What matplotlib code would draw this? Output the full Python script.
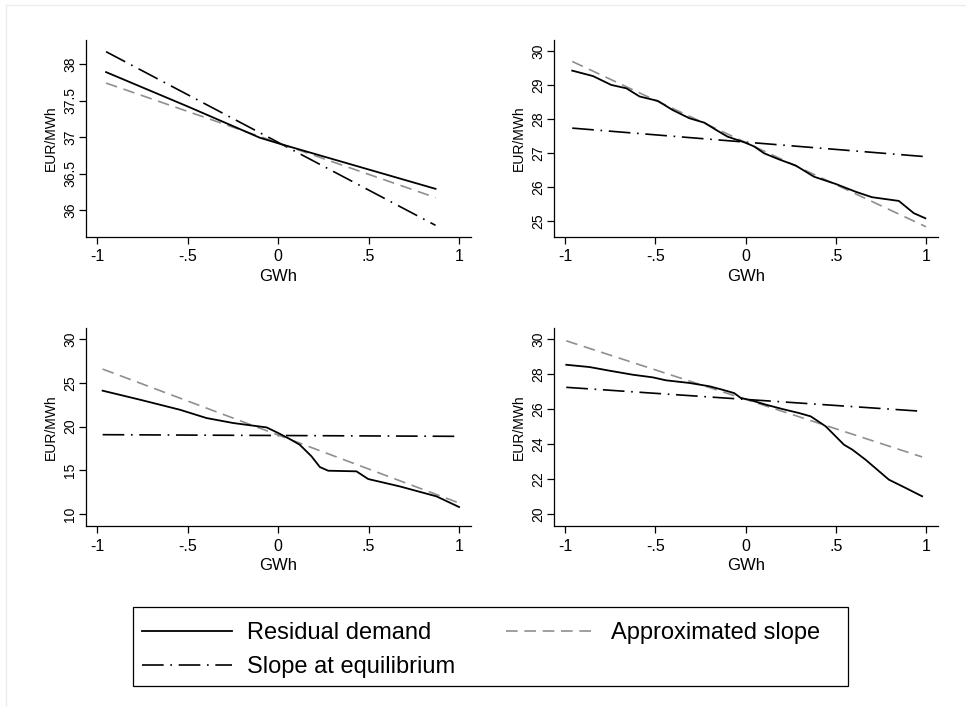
import numpy as np
import matplotlib.pyplot as plt
from matplotlib.lines import Line2D
from matplotlib.patches import Rectangle

plt.rcParams['font.family'] = ['Liberation Sans', 'DejaVu Sans']

# Panel 1 (top left)
p1_res_x = [-0.95, -0.5, -0.1, 0.02, 0.87]
p1_res_y = [37.89, 37.42, 36.99, 36.90, 36.29]
p1_apx_x = [-0.95, 0.87]
p1_apx_y = [37.74, 36.17]
p1_eq_x = [-0.95, 0.87]
p1_eq_y = [38.17, 35.79]

# Panel 2 (top right)
p2_res_x = [-0.96, -0.845, -0.744, -0.66, -0.587, -0.486, -0.403, -0.311, -0.228,
            -0.164, -0.1, 0.0, 0.048, 0.103, 0.186, 0.278, 0.38, 0.499, 0.61,
            0.70, 0.849, 0.932, 0.996]
p2_res_y = [29.42, 29.26, 29.0, 28.9, 28.66, 28.53, 28.26, 28.02, 27.89,
            27.68, 27.48, 27.3, 27.19, 26.99, 26.81, 26.63, 26.30, 26.09, 25.86,
            25.70, 25.59, 25.23, 25.08]
p2_apx_x = [-0.96, 1.0]
p2_apx_y = [29.69, 24.83]
p2_eq_x = [-0.96, 1.0]
p2_eq_y = [27.73, 26.89]

# Panel 3 (bottom left)
p3_res_x = [-0.969, -0.763, -0.542, -0.395, -0.247, -0.137, -0.063, 0.001, 0.065,
            0.12, 0.185, 0.231, 0.277, 0.433, 0.498, 0.672, 0.875, 1.0]
p3_res_y = [24.1, 23.07, 21.92, 20.97, 20.4, 20.1, 19.9, 19.26, 18.57,
            17.92, 16.59, 15.37, 14.95, 14.88, 14.0, 13.16, 12.02, 10.8]
p3_apx_x = [-0.969, 1.0]
p3_apx_y = [26.57, 11.26]
p3_eq_x = [-0.969, 1.0]
p3_eq_y = [19.07, 18.88]

# Panel 4 (bottom right)
p4_res_x = [-0.993, -0.864, -0.753, -0.624, -0.514, -0.44, -0.311, -0.2, -0.127,
            -0.063, -0.026, 0.02, 0.112, 0.204, 0.296, 0.361, 0.444, 0.545, 0.591,
            0.665, 0.794, 0.886, 0.978]
p4_res_y = [28.53, 28.4, 28.19, 27.96, 27.81, 27.64, 27.49, 27.3, 27.1,
            26.91, 26.63, 26.53, 26.25, 26.0, 25.77, 25.58, 25.01, 23.96, 23.68,
            23.1, 21.96, 21.49, 21.01]
p4_apx_x = [-0.993, 0.978]
p4_apx_y = [29.9, 23.26]
p4_eq_x = [-0.993, 0.978]
p4_eq_y = [27.24, 25.87]

x_ticks = [-1, -0.5, 0, 0.5, 1]
x_ticklabels = ['-1', '-.5', '0', '.5', '1']

panels = [
    dict(res=(p1_res_x, p1_res_y), apx=(p1_apx_x, p1_apx_y), eq=(p1_eq_x, p1_eq_y),
         yticks=[36, 36.5, 37, 37.5, 38], ylabels=['36', '36.5', '37', '37.5', '38'],
         ylim=(35.63, 38.33), rect=[0.089, 0.6648, 0.3986, 0.2786]),
    dict(res=(p2_res_x, p2_res_y), apx=(p2_apx_x, p2_apx_y), eq=(p2_eq_x, p2_eq_y),
         yticks=[25, 26, 27, 28, 29, 30], ylabels=['25', '26', '27', '28', '29', '30'],
         ylim=(24.53, 30.32), rect=[0.5735, 0.6648, 0.3975, 0.2786]),
    dict(res=(p3_res_x, p3_res_y), apx=(p3_apx_x, p3_apx_y), eq=(p3_eq_x, p3_eq_y),
         yticks=[10, 15, 20, 25, 30], ylabels=['10', '15', '20', '25', '30'],
         ylim=(8.63, 31.26), rect=[0.089, 0.256, 0.3986, 0.280]),
    dict(res=(p4_res_x, p4_res_y), apx=(p4_apx_x, p4_apx_y), eq=(p4_eq_x, p4_eq_y),
         yticks=[20, 22, 24, 26, 28, 30], ylabels=['20', '22', '24', '26', '28', '30'],
         ylim=(19.31, 30.63), rect=[0.5735, 0.256, 0.3975, 0.280]),
]

eq_style = (0, (13, 4, 1, 4))
apx_style = (0, (7, 4))
gray = '#8f8f8f'

fig = plt.figure(figsize=(9.66, 7.07), dpi=100)

for p in panels:
    ax = fig.add_axes(p['rect'])
    ax.plot(*p['eq'], color='black', lw=1.2, linestyle=eq_style)
    ax.plot(*p['apx'], color=gray, lw=1.2, linestyle=apx_style)
    ax.plot(*p['res'], color='black', lw=1.3)
    ax.set_xlim(-1.061, 1.066)
    ax.set_ylim(*p['ylim'])
    ax.set_xticks(x_ticks)
    ax.set_xticklabels(x_ticklabels, fontsize=11.5)
    ax.set_yticks(p['yticks'])
    ax.set_yticklabels(p['ylabels'], fontsize=10, rotation=90, va='center')
    ax.set_xlabel('GWh', fontsize=12, labelpad=3)
    ax.set_ylabel('EUR/MWh', fontsize=10, labelpad=4)
    for s in ['top', 'right']:
        ax.spines[s].set_visible(False)
    for s in ['left', 'bottom']:
        ax.spines[s].set_linewidth(0.9)
    ax.tick_params(axis='x', direction='out', length=5, width=0.9, pad=4)
    ax.tick_params(axis='y', direction='out', length=5, width=0.9, pad=1.5)

handles = [
    Line2D([], [], color='black', lw=1.3),
    Line2D([], [], color='black', lw=1.2, linestyle=eq_style),
    Line2D([], [], color=gray, lw=1.2, linestyle=apx_style),
]
labels = ['Residual demand', 'Slope at equilibrium', 'Approximated slope']
leg = fig.legend(handles, labels, ncol=2, loc='upper left',
                 bbox_to_anchor=(142 / 966, 1 - 622 / 707),
                 fontsize=17, handlelength=3.8, handletextpad=0.64,
                 columnspacing=2.15, frameon=False,
                 borderaxespad=0, labelspacing=0.5, borderpad=0)

# legend frame
fig.add_artist(Rectangle((133 / 966, 1 - 686 / 707), 715 / 966, 79 / 707,
                         transform=fig.transFigure, fill=False,
                         edgecolor='black', lw=0.9))

# faint outer frame of the original figure
fig.add_artist(Line2D([0.006, 0.006], [0, 0.993], color='#ececec', lw=1))
fig.add_artist(Line2D([0.006, 1], [0.993, 0.993], color='#ececec', lw=1))

fig.savefig('out.png', dpi=100)
